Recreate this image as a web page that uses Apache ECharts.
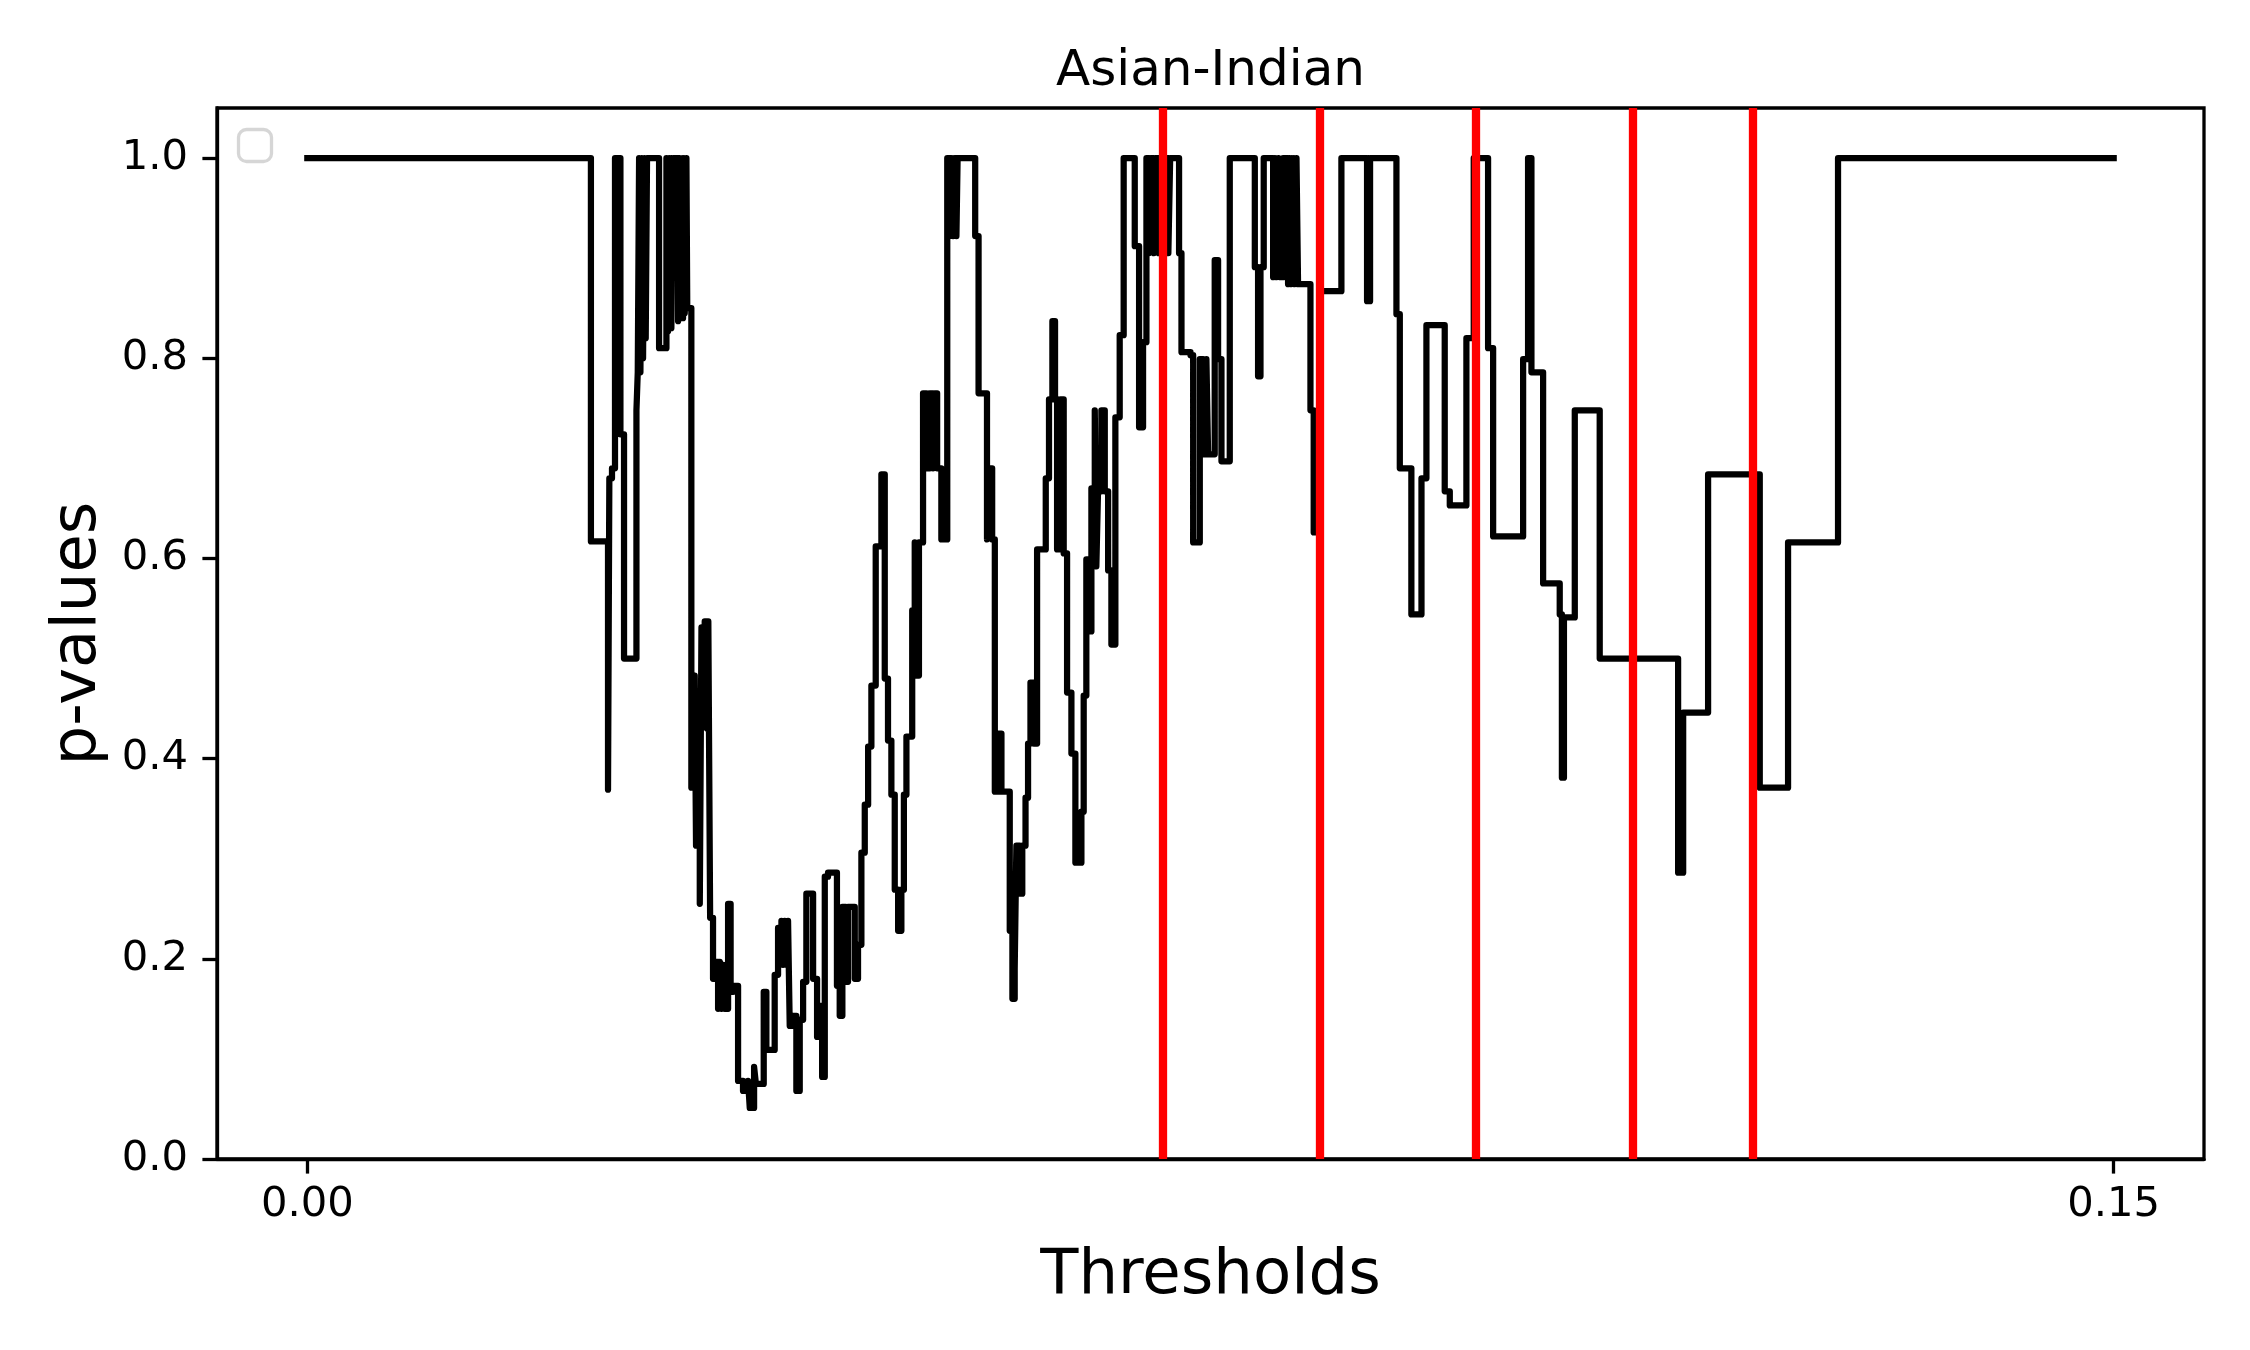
<!DOCTYPE html>
<html>
<head>
<meta charset="utf-8">
<script src="https://cdn.jsdelivr.net/npm/echarts@6/dist/echarts.min.js"></script>
<style>
html,body{margin:0;padding:0;background:#fff;}
#chart{width:2250px;height:1350px;}
</style>
</head>
<body>
<div id="chart"></div>
<script>
// Threshold at which each step of the p-value curve starts
const thresholds = [
0.00000,0.02355,0.02497,0.02508,0.02530,0.02555,0.02600,0.02630,0.02733,0.02744,
0.02755,0.02766,0.02777,0.02788,0.02799,0.02810,0.02821,0.02921,0.02982,0.02996,
0.03010,0.03023,0.03037,0.03079,0.03090,0.03101,0.03120,0.03134,0.03148,0.03155,
0.03189,0.03199,0.03208,0.03217,0.03228,0.03240,0.03259,0.03273,0.03300,0.03318,
0.03330,0.03345,0.03369,0.03390,0.03411,0.03425,0.03439,0.03453,0.03466,0.03494,
0.03515,0.03536,0.03577,0.03618,0.03660,0.03674,0.03710,0.03725,0.03790,0.03812,
0.03881,0.03909,0.03937,0.03950,0.03964,0.03978,0.03992,0.04006,0.04034,0.04061,
0.04089,0.04117,0.04144,0.04200,0.04233,0.04255,0.04275,0.04297,0.04324,0.04398,
0.04421,0.04443,0.04471,0.04490,0.04546,0.04573,0.04601,0.04629,0.04657,0.04684,
0.04720,0.04767,0.04795,0.04822,0.04850,0.04878,0.04906,0.04933,0.04954,0.04975,
0.05023,0.05044,0.05058,0.05079,0.05113,0.05141,0.05169,0.05196,0.05210,0.05230,
0.05265,0.05314,0.05335,0.05348,0.05362,0.05376,0.05390,0.05400,0.05546,0.05574,
0.05644,0.05660,0.05687,0.05709,0.05736,0.05764,0.05833,0.05855,0.05874,0.05888,
0.05916,0.05937,0.05964,0.05985,0.06005,0.06033,0.06060,0.06132,0.06159,0.06187,
0.06209,0.06226,0.06254,0.06281,0.06309,0.06345,0.06378,0.06428,0.06447,0.06469,
0.06492,0.06511,0.06539,0.06552,0.06566,0.06594,0.06622,0.06650,0.06677,0.06710,
0.06746,0.06779,0.06871,0.06907,0.06940,0.06968,0.06990,0.07005,0.07030,0.07045,
0.07070,0.07090,0.07110,0.07125,0.07150,0.07165,0.07239,0.07259,0.07334,0.07356,
0.07411,0.07439,0.07466,0.07480,0.07535,0.07563,0.07591,0.07660,0.07868,0.07895,
0.07915,0.07942,0.08020,0.08035,0.08050,0.08065,0.08080,0.08103,0.08144,0.08158,
0.08172,0.08186,0.08200,0.08214,0.08227,0.08330,0.08357,0.08407,0.08587,0.08800,
0.08825,0.09044,0.09072,0.09168,0.09252,0.09293,0.09445,0.09487,0.09625,0.09686,
0.09805,0.09847,0.10096,0.10137,0.10165,0.10262,0.10400,0.10418,0.10435,0.10525,
0.10732,0.11383,0.11425,0.11632,0.12061,0.12296,0.12711,0.15000
];
const pValues = [
1.000,0.617,0.369,0.680,0.690,1.000,0.724,0.500,0.748,0.786,
1.000,0.786,1.000,0.800,1.000,0.820,1.000,0.810,1.000,0.827,
1.000,0.830,1.000,0.837,1.000,0.840,1.000,0.845,1.000,0.850,
0.371,0.483,0.371,0.483,0.313,0.405,0.255,0.531,0.537,0.430,
0.537,0.241,0.180,0.197,0.150,0.197,0.150,0.194,0.150,0.255,
0.167,0.173,0.078,0.068,0.078,0.051,0.092,0.075,0.167,0.109,
0.184,0.231,0.238,0.194,0.238,0.194,0.238,0.133,0.143,0.068,
0.139,0.177,0.265,0.180,0.122,0.153,0.082,0.282,0.286,0.173,
0.143,0.252,0.177,0.252,0.180,0.214,0.306,0.354,0.412,0.473,
0.612,0.684,0.480,0.418,0.364,0.269,0.228,0.269,0.364,0.422,
0.548,0.616,0.483,0.616,0.765,0.690,0.765,0.690,0.765,0.690,
0.619,1.000,0.922,1.000,0.922,1.000,0.922,1.000,0.922,0.765,
0.619,0.690,0.619,0.367,0.425,0.367,0.228,0.160,0.190,0.313,
0.265,0.313,0.361,0.415,0.476,0.415,0.609,0.680,0.759,0.837,
0.759,0.609,0.759,0.605,0.466,0.405,0.296,0.347,0.463,0.599,
0.527,0.670,0.748,0.592,0.667,0.748,0.667,0.588,0.514,0.741,
0.823,1.000,0.912,0.731,0.816,1.000,0.905,1.000,0.905,1.000,
0.905,1.000,0.905,1.000,0.905,1.000,0.905,0.806,0.803,0.616,
0.799,0.704,0.799,0.704,0.898,0.799,0.697,1.000,0.891,0.782,
0.891,1.000,0.881,1.000,0.881,1.000,0.881,1.000,0.874,1.000,
0.874,1.000,0.874,1.000,0.874,0.748,0.626,0.867,1.000,0.857,
1.000,0.844,0.690,0.544,0.680,0.833,0.667,0.653,0.820,1.000,
0.810,0.622,0.799,1.000,0.786,0.575,0.544,0.381,0.541,0.748,
0.500,0.286,0.446,0.684,0.371,0.616,1.000,1.000
];
// Vertical red reference lines (threshold positions)
const redLines = [0.0710, 0.0841, 0.0970, 0.1101, 0.1200];
const xTickValues = [0, 0.15];
const xTickLabels = ['0.00', '0.15'];
const yTickValues = [0, 0.2, 0.4, 0.6, 0.8, 1.0];
const yTickLabels = ['0.0', '0.2', '0.4', '0.6', '0.8', '1.0'];

const curve = thresholds.map((t, i) => [t, pValues[i]]);
const FONT = 'DejaVu Sans';

const chart = echarts.init(document.getElementById('chart'), null, {renderer: 'canvas'});
chart.setOption({
  animation: false,
  backgroundColor: '#ffffff',
  textStyle: {fontFamily: FONT, color: '#000'},
  title: {
    text: 'Asian-Indian',
    left: 1210.5,
    top: 47,
    padding: 0,
    textAlign: 'center',
    textStyle: {fontFamily: FONT, fontSize: 50, fontWeight: 'normal', color: '#000'}
  },
  grid: {
    left: 217, right: 46, top: 108, bottom: 191,
    show: true, borderColor: '#000', borderWidth: 3.3, backgroundColor: 'transparent'
  },
  xAxis: {
    type: 'value',
    min: -0.0075, max: 0.1575,
    name: 'Thresholds',
    nameLocation: 'middle',
    nameGap: 86,
    nameTextStyle: {fontFamily: FONT, fontSize: 62.5, color: '#000'},
    axisLine: {show: true, onZero: false, lineStyle: {color: '#000', width: 3.3}},
    axisTick: {show: true, customValues: xTickValues, length: 14.6, inside: false,
      lineStyle: {color: '#000', width: 3.3}},
    axisLabel: {customValues: xTickValues, margin: 25, fontFamily: FONT, fontSize: 41.7, color: '#000',
      formatter: v => xTickLabels[xTickValues.findIndex(x => Math.abs(x - v) < 1e-9)] ?? ''},
    splitLine: {show: false}
  },
  yAxis: {
    type: 'value',
    min: 0, max: 1.05,
    name: 'p-values',
    nameLocation: 'middle',
    nameGap: 107,
    nameTextStyle: {fontFamily: FONT, fontSize: 62.5, color: '#000'},
    axisLine: {show: true, onZero: false, lineStyle: {color: '#000', width: 3.3}},
    axisTick: {show: true, customValues: yTickValues, length: 14.6, inside: false,
      lineStyle: {color: '#000', width: 3.3}},
    axisLabel: {customValues: yTickValues, margin: 29, fontFamily: FONT, fontSize: 41.7, color: '#000',
      formatter: v => yTickLabels[yTickValues.findIndex(x => Math.abs(x - v) < 1e-9)] ?? ''},
    splitLine: {show: false}
  },
  graphic: [{
    type: 'rect',
    shape: {x: 238.5, y: 129.5, width: 33, height: 32, r: 8},
    style: {fill: '#ffffff', stroke: '#d6d6d6', lineWidth: 3.3},
    z: 100
  }],
  series: [
    {
      type: 'line',
      data: curve,
      step: 'end',
      showSymbol: false,
      symbol: 'none',
      lineStyle: {color: '#000', width: 6.25, join: 'round', cap: 'square'},
      z: 2,
      silent: true
    },
    {
      type: 'line',
      data: [],
      z: 3,
      silent: true,
      markLine: {
        silent: true,
        precision: 6,
        symbol: ['none', 'none'],
        label: {show: false},
        animation: false,
        lineStyle: {color: '#ff0000', width: 8.3, type: 'solid'},
        data: redLines.map(x => ({xAxis: x}))
      }
    }
  ]
});
</script>
</body>
</html>
